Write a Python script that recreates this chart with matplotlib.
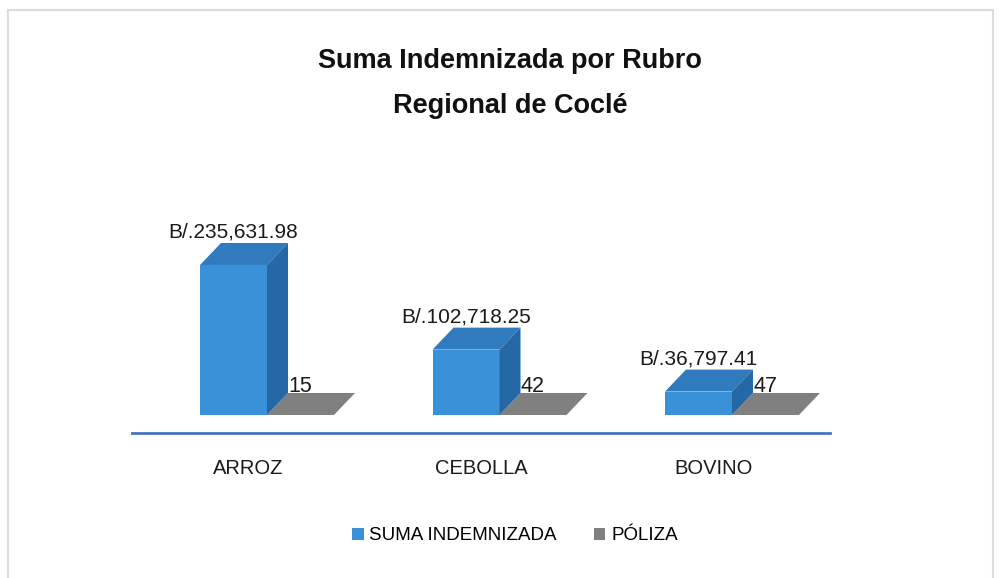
import matplotlib
matplotlib.use("Agg")
import matplotlib.pyplot as plt
from matplotlib.patches import Polygon, Patch, Rectangle

# ---- data ----
categories = ["ARROZ", "CEBOLLA", "BOVINO"]
suma_indemnizada = [235631.98, 102718.25, 36797.41]
poliza = [15, 42, 47]
suma_labels = ["B/.235,631.98", "B/.102,718.25", "B/.36,797.41"]
series_names = ["SUMA INDEMNIZADA", "PÓLIZA"]
title_lines = ["Suma Indemnizada por Rubro", "Regional de Coclé"]

FONT = ["Liberation Sans", "DejaVu Sans"]
plt.rcParams["font.family"] = FONT

W, H = 1000, 578
fig = plt.figure(figsize=(W / 100, H / 100), dpi=100)
fig.patch.set_facecolor("white")

# light frame
fig.add_artist(Rectangle((8 / W, -0.01), (993 - 8) / W, 1 - 10 / H + 0.01,
                         transform=fig.transFigure, fill=False,
                         edgecolor="#dcdcdc", linewidth=1.5))

# ---- axes layout (pixels) ----
ax_left_px, ax_right_px = 132, 830
ax_bottom_px, ax_top_px = 433, 150
base_px = 415            # pixel row of the bar bases
px_per_unit = 150 / suma_indemnizada[0]
group_x0_px, group_step_px = 267, 232.5

ax = fig.add_axes([ax_left_px / W, 1 - ax_bottom_px / H,
                   (ax_right_px - ax_left_px) / W, (ax_bottom_px - ax_top_px) / H])
units_per_px = 1 / px_per_unit
ax.set_ylim(-(ax_bottom_px - base_px) * units_per_px, (base_px - ax_top_px) * units_per_px)
ax.set_xlim((ax_left_px - group_x0_px) / group_step_px, (ax_right_px - group_x0_px) / group_step_px)

bar_w = 67 / group_step_px
dx = 21 / group_step_px
dy = 22 * units_per_px

blue_front = "#3a91d8"
blue_top = "#2f7bbd"
blue_side = "#2568a6"
gray_top = "#808080"

xs = list(range(len(categories)))

# blue bars: front via ax.bar, 3D faces via polygons
ax.bar([x - bar_w for x in xs], suma_indemnizada, width=bar_w, align="edge",
       color=blue_front, edgecolor="none", zorder=3)
for x, v in zip(xs, suma_indemnizada):
    x0 = x - bar_w
    top = Polygon([(x0, v), (x0 + bar_w, v), (x0 + bar_w + dx, v + dy), (x0 + dx, v + dy)],
                  closed=True, facecolor=blue_top, edgecolor="none", zorder=3)
    side = Polygon([(x0 + bar_w, 0), (x0 + bar_w + dx, dy), (x0 + bar_w + dx, v + dy), (x0 + bar_w, v)],
                   closed=True, facecolor=blue_side, edgecolor="none", zorder=3)
    ax.add_patch(top)
    ax.add_patch(side)

# gray bars (nearly flat)
ax.bar(xs, poliza, width=bar_w, align="edge", color=gray_top, edgecolor="none", zorder=2)
for x, v in zip(xs, poliza):
    top = Polygon([(x, v), (x + bar_w, v), (x + bar_w + dx, v + dy), (x + dx, v + dy)],
                  closed=True, facecolor=gray_top, edgecolor="none", zorder=2)
    ax.add_patch(top)

# labels
for x, v, lab in zip(xs, suma_indemnizada, suma_labels):
    ax.annotate(lab, (x - bar_w / 2, v + dy), xytext=(0, 4), textcoords="offset points",
                ha="center", va="baseline", fontsize=15, color="#1a1a1a", zorder=5)
for x, v in zip(xs, poliza):
    ax.annotate(str(v), (x + dx, v + dy), xytext=(0, 1), textcoords="offset points",
                ha="left", va="baseline", fontsize=15.5, color="#1a1a1a", zorder=5)

# axis styling
for s in ["top", "right", "left"]:
    ax.spines[s].set_visible(False)
ax.spines["bottom"].set_color("#4a72c0")
ax.spines["bottom"].set_linewidth(2)
ax.set_yticks([])
ax.set_xticks([x - 0.08 for x in xs])
ax.set_xticklabels(categories, fontsize=14.5, color="#1a1a1a")
ax.tick_params(axis="x", length=0, pad=19)
ax.set_facecolor("none")

# title
fig.text(510 / W, 1 - 68 / H, title_lines[0], ha="center", va="baseline",
         fontsize=19.5, fontweight="bold", color="#111111")
fig.text(510 / W, 1 - 113 / H, title_lines[1], ha="center", va="baseline",
         fontsize=19.5, fontweight="bold", color="#111111")

# legend
handles = [Patch(facecolor=blue_front, edgecolor="none"), Patch(facecolor=gray_top, edgecolor="none")]
fig.legend(handles, series_names, loc="center", bbox_to_anchor=(515 / W, 1 - 536 / H),
           ncol=2, frameon=False, fontsize=13.5, handlelength=0.6, handleheight=0.6,
           handletextpad=0.3, columnspacing=2.0)

fig.savefig("out.png", dpi=100, facecolor="white")
